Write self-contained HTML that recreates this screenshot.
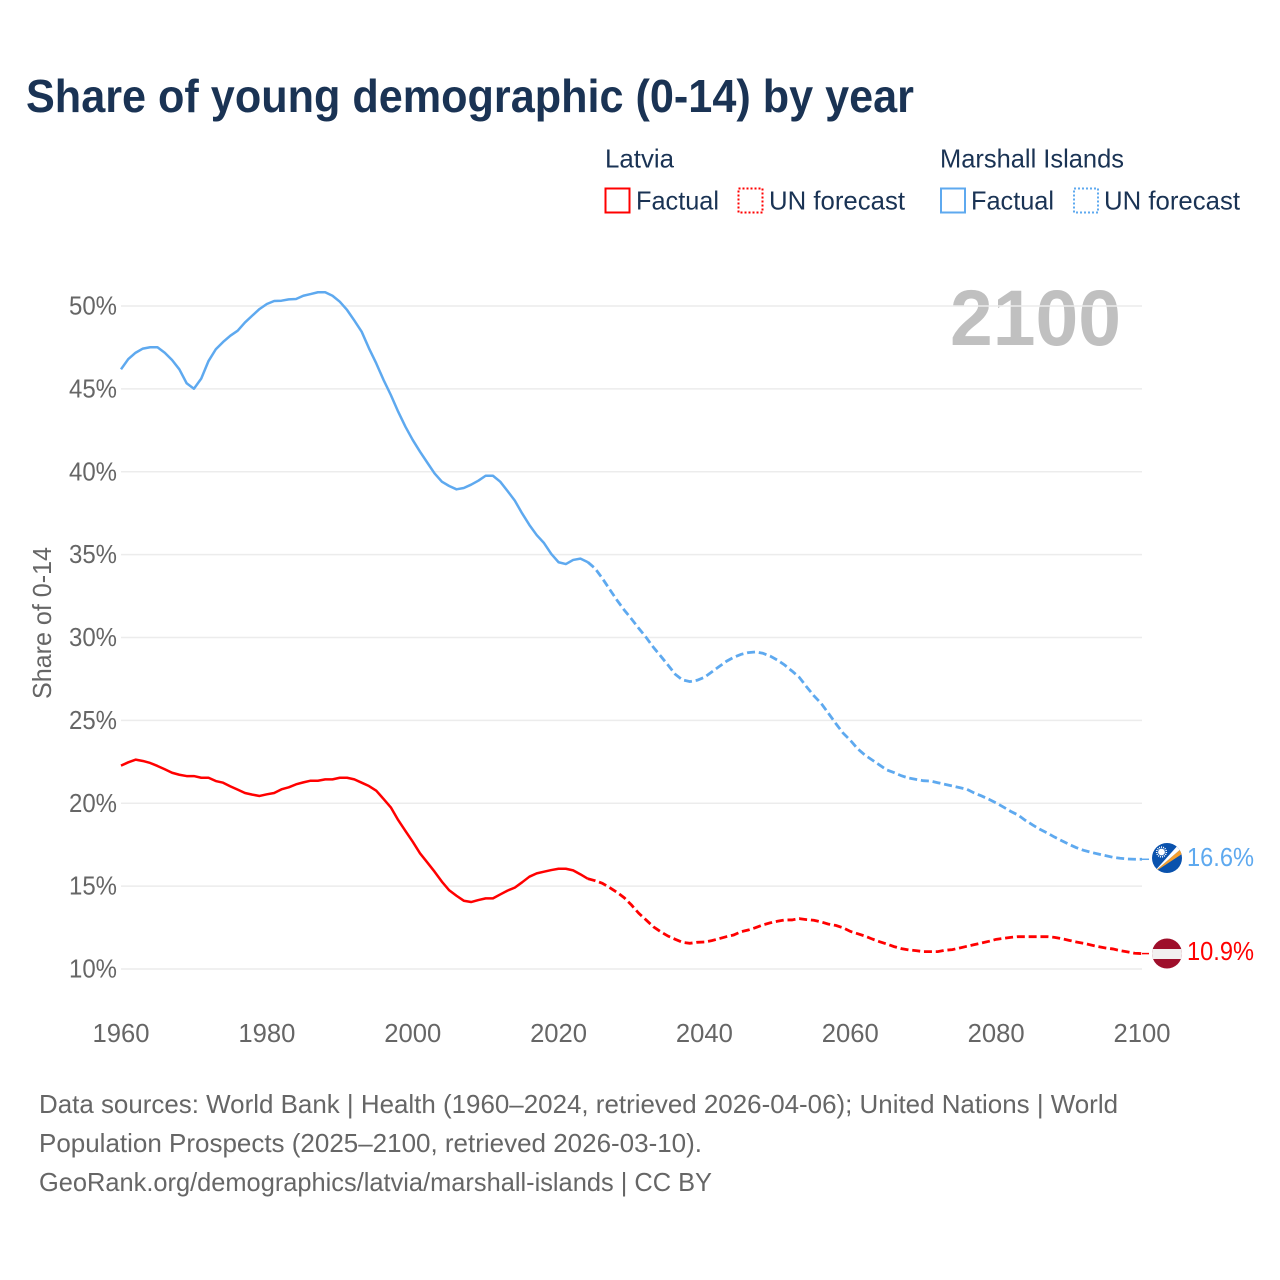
<!DOCTYPE html>
<html lang="en">
<head>
<meta charset="utf-8">
<title>Share of young demographic (0-14) by year</title>
<style>
html,body{margin:0;padding:0;background:#fff}
svg{display:block}
text{font-family:"Liberation Sans",sans-serif}
</style>
</head>
<body>
<svg id="chart" width="1280" height="1280" viewBox="0 0 1280 1280" xmlns="http://www.w3.org/2000/svg">
  <defs>
    <clipPath id="clip-mh"><circle cx="1167" cy="858" r="15"/></clipPath>
    <clipPath id="clip-lv"><circle cx="1167" cy="953.5" r="15"/></clipPath>
  </defs>
  <rect width="1280" height="1280" fill="#fff"/>
  <text x="26" y="112" font-size="46" font-weight="700" fill="#1a3354" textLength="888" lengthAdjust="spacingAndGlyphs">Share of young demographic (0-14) by year</text>

  <g font-size="26" fill="#1a3354">
    <text x="605" y="167.5" textLength="69" lengthAdjust="spacingAndGlyphs">Latvia</text>
    <text x="940" y="167.5" textLength="184" lengthAdjust="spacingAndGlyphs">Marshall Islands</text>
    <rect x="605.5" y="188.5" width="24" height="24" fill="none" stroke="#ff0000" stroke-width="2"/>
    <text x="636" y="209.5" textLength="83" lengthAdjust="spacingAndGlyphs">Factual</text>
    <rect x="738.5" y="188.5" width="24" height="24" fill="none" stroke="#ff0000" stroke-width="2" stroke-dasharray="2 2"/>
    <text x="769" y="209.5" textLength="136" lengthAdjust="spacingAndGlyphs">UN forecast</text>
    <rect x="941" y="188.5" width="24" height="24" fill="none" stroke="#5ea9ef" stroke-width="2"/>
    <text x="971" y="209.5" textLength="83" lengthAdjust="spacingAndGlyphs">Factual</text>
    <rect x="1074" y="188.5" width="24" height="24" fill="none" stroke="#5ea9ef" stroke-width="2" stroke-dasharray="2 2"/>
    <text x="1104" y="209.5" textLength="136" lengthAdjust="spacingAndGlyphs">UN forecast</text>
  </g>

  <text x="950" y="345" font-size="79" font-weight="700" fill="#c0c0c0" textLength="171" lengthAdjust="spacingAndGlyphs">2100</text>
  <g id="grid"></g>
  <g id="y-axis" font-size="26" fill="#666"></g>
  <g id="x-axis" font-size="26" fill="#666"></g>
  <text transform="translate(51,699) rotate(-90)" font-size="26" fill="#666" textLength="152" lengthAdjust="spacingAndGlyphs">Share of 0-14</text>
  <g id="series"></g>

  <g clip-path="url(#clip-mh)">
    <rect x="1152" y="843" width="30" height="30" fill="#0a52ad"/>
    <polygon points="1153,873 1182,848 1182,854" fill="#f59f2e"/>
    <polygon points="1153,873 1180,843 1182,848" fill="#ffffff"/>
    <circle cx="1161.5" cy="852" r="3.4" fill="#fff"/>
    <circle cx="1161.5" cy="852" r="4.8" fill="none" stroke="#fff" stroke-width="1.6" stroke-dasharray="1 1"/>
  </g>
  <g clip-path="url(#clip-lv)">
    <rect x="1152" y="938" width="30" height="31" fill="#9e0f2b"/>
    <rect x="1152" y="949" width="30" height="10" fill="#f2f0f0"/>
  </g>
  <text id="end-marshall" x="1187" y="866" font-size="26" fill="#5ea9ef" textLength="67" lengthAdjust="spacingAndGlyphs"></text>
  <text id="end-latvia" x="1187" y="960" font-size="26" fill="#ff0000" textLength="67" lengthAdjust="spacingAndGlyphs"></text>

  <g font-size="26" fill="#666">
    <text x="39" y="1113" textLength="1079" lengthAdjust="spacingAndGlyphs">Data sources: World Bank | Health (1960–2024, retrieved 2026-04-06); United Nations | World</text>
    <text x="39" y="1152" textLength="663" lengthAdjust="spacingAndGlyphs">Population Prospects (2025–2100, retrieved 2026-03-10).</text>
    <text x="39" y="1191" textLength="673" lengthAdjust="spacingAndGlyphs">GeoRank.org/demographics/latvia/marshall-islands | CC BY</text>
  </g>
</svg>
<script>
const yTicks = [10, 15, 20, 25, 30, 35, 40, 45, 50];
const xTicks = [1960, 1980, 2000, 2020, 2040, 2060, 2080, 2100];
const firstYear = 1960;
const lastFactualYear = 2024;
const marshallValues = [
  46.18,46.80,47.18,47.43,47.51,47.51,47.18,46.74,46.18,45.34,
  45.01,45.62,46.68,47.39,47.83,48.21,48.51,49.01,49.42,49.82,
  50.12,50.30,50.32,50.40,50.42,50.62,50.72,50.83,50.83,50.62,
  50.26,49.76,49.12,48.45,47.45,46.54,45.54,44.63,43.63,42.72,
  41.92,41.21,40.55,39.90,39.40,39.14,38.94,39.02,39.22,39.46,
  39.76,39.76,39.40,38.84,38.26,37.49,36.79,36.18,35.70,35.04,
  34.54,34.43,34.68,34.76,34.55,34.17,33.57,32.91,32.26,31.66,
  31.12,30.55,30.01,29.41,28.88,28.34,27.78,27.44,27.34,27.42,
  27.60,27.92,28.24,28.56,28.80,28.98,29.09,29.13,29.05,28.88,
  28.64,28.34,27.98,27.60,27.03,26.49,26.03,25.43,24.82,24.24,
  23.80,23.29,22.91,22.61,22.31,22.01,21.85,21.66,21.52,21.44,
  21.36,21.34,21.24,21.14,21.04,20.94,20.84,20.62,20.44,20.24,
  20.02,19.77,19.51,19.29,18.97,18.69,18.43,18.21,17.96,17.74,
  17.52,17.32,17.16,17.04,16.94,16.84,16.74,16.68,16.64,16.62,16.62
];
const latviaValues = [
  22.27,22.47,22.63,22.55,22.43,22.25,22.05,21.84,21.72,21.64,
  21.64,21.54,21.54,21.34,21.24,21.02,20.82,20.62,20.52,20.44,
  20.54,20.62,20.84,20.96,21.14,21.26,21.36,21.36,21.44,21.44,
  21.54,21.54,21.44,21.24,21.04,20.76,20.26,19.75,18.99,18.33,
  17.68,16.98,16.43,15.87,15.27,14.75,14.42,14.12,14.04,14.16,
  14.26,14.26,14.50,14.73,14.91,15.23,15.57,15.77,15.87,15.97,
  16.05,16.05,15.95,15.71,15.45,15.33,15.17,14.91,14.63,14.30,
  13.86,13.36,12.96,12.55,12.25,11.99,11.79,11.61,11.55,11.61,
  11.63,11.71,11.83,11.95,12.05,12.25,12.35,12.49,12.66,12.78,
  12.88,12.96,12.96,13.04,12.98,12.94,12.84,12.71,12.63,12.49,
  12.27,12.13,11.99,11.81,11.65,11.51,11.35,11.23,11.15,11.11,
  11.05,11.05,11.05,11.13,11.17,11.27,11.37,11.47,11.57,11.67,
  11.79,11.85,11.91,11.95,11.95,11.95,11.95,11.95,11.91,11.83,
  11.73,11.63,11.55,11.45,11.35,11.27,11.21,11.11,11.03,10.95,10.93
];

const NS = 'http://www.w3.org/2000/svg';
const plotLeft = 121, plotRight = 1142, y50 = 306, y10 = 969;
const xScale = yr => plotLeft + (yr - 1960) * (plotRight - plotLeft) / 140;
const yScale = v => y50 + (50 - v) * (y10 - y50) / 40;
const make = (tag, parent) => {
  const el = document.createElementNS(NS, tag);
  parent.appendChild(el);
  return el;
};

const gridGroup = document.getElementById('grid');
const yGroup = document.getElementById('y-axis');
const xGroup = document.getElementById('x-axis');
const seriesGroup = document.getElementById('series');

yTicks.forEach(t => {
  const line = make('line', gridGroup);
  
  
  line.setAttribute('x1', plotLeft);
  line.setAttribute('x2', plotRight);
  line.setAttribute('y1', yScale(t));
  line.setAttribute('y2', yScale(t));
  line.setAttribute('stroke', '#ececec');
  line.setAttribute('stroke-width', '1.5');

  const label = make('text', yGroup);
  
  
  label.setAttribute('x', 69);
  label.setAttribute('y', yScale(t) + 8.5);
  label.setAttribute('textLength', 48);
  label.setAttribute('lengthAdjust', 'spacingAndGlyphs');
  label.textContent = t + '%';
});

xTicks.forEach(t => {
  const label = make('text', xGroup);
  
  
  label.setAttribute('x', xScale(t) - 28.5);
  label.setAttribute('y', 1042);
  label.setAttribute('textLength', 57);
  label.setAttribute('lengthAdjust', 'spacingAndGlyphs');
  label.textContent = t;
});

function drawSeries(values, color, key) {
  const pts = values.map((v, i) => [xScale(firstYear + i), yScale(v)]);
  const splitIndex = lastFactualYear - firstYear;
  const toPath = list => list.map((p, i) => (i ? 'L' : 'M') + p[0].toFixed(2) + ' ' + p[1].toFixed(2)).join('');

  const factual = make('path', seriesGroup);
  
  
  factual.setAttribute('d', toPath(pts.slice(0, splitIndex + 1)));
  factual.setAttribute('fill', 'none');
  factual.setAttribute('stroke', color);
  factual.setAttribute('stroke-width', '2.5');
  factual.setAttribute('stroke-linejoin', 'round');

  const forecast = make('path', seriesGroup);
  
  
  forecast.setAttribute('d', toPath(pts.slice(splitIndex)));
  forecast.setAttribute('fill', 'none');
  forecast.setAttribute('stroke', color);
  forecast.setAttribute('stroke-width', '2.8');
  forecast.setAttribute('stroke-dasharray', '8 3.8');

  const last = pts[pts.length - 1];
  const leader = make('line', seriesGroup);
  
  
  leader.setAttribute('x1', last[0]);
  leader.setAttribute('x2', last[0] + 10);
  leader.setAttribute('y1', last[1]);
  leader.setAttribute('y2', last[1]);
  leader.setAttribute('stroke', color);
  leader.setAttribute('stroke-width', '1.5');
  leader.setAttribute('stroke-dasharray', '7 3');
}

drawSeries(latviaValues, '#ff0000', 'latvia');
drawSeries(marshallValues, '#5ea9ef', 'marshall-islands');

document.getElementById('end-marshall').textContent = marshallValues[marshallValues.length - 1].toFixed(1) + '%';
document.getElementById('end-latvia').textContent = latviaValues[latviaValues.length - 1].toFixed(1) + '%';
</script>
</body>
</html>
